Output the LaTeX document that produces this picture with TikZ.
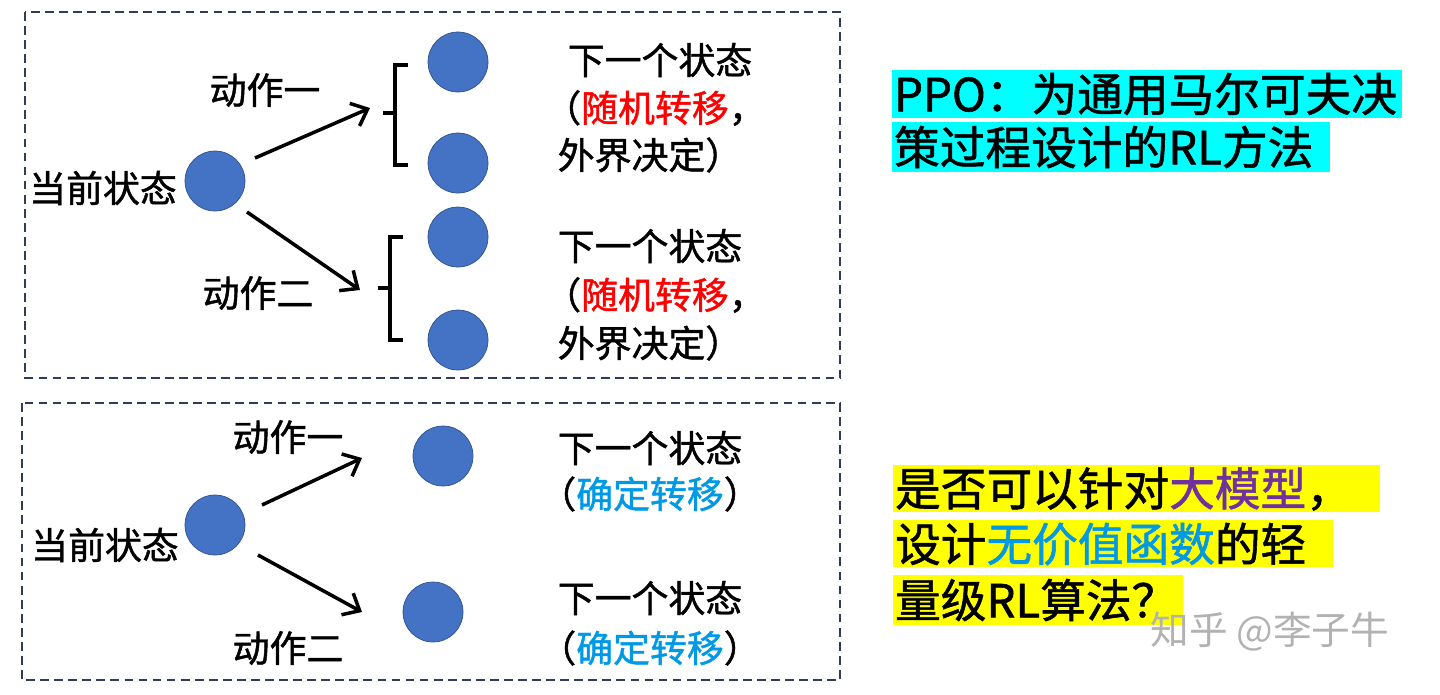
\documentclass[tikz,border=0pt]{standalone}
\usepackage{fontspec}
\setmainfont[AutoFakeBold=1.2]{Noto Sans CJK SC}
\usetikzlibrary{arrows.meta}
\definecolor{cy}{RGB}{0,255,255}
\definecolor{ye}{RGB}{255,255,0}
\definecolor{bl}{RGB}{68,114,196}
\definecolor{pu}{RGB}{112,48,160}
\definecolor{sb}{RGB}{0,153,230}
\definecolor{dash}{RGB}{50,60,90}
\begin{document}
\begin{tikzpicture}[x=0.02cm,y=-0.02cm,
 st/.style={circle,draw=bl!70!black,fill=bl,minimum size=1.2cm,inner sep=0},
 lab/.style={font=\bfseries\fontsize{21}{24}\selectfont,inner sep=0},
 big/.style={font=\bfseries\fontsize{26}{32}\selectfont,inner sep=1pt,anchor=west},
 arr/.style={-{Straight Barb[length=8pt,width=14pt]},line width=2pt},
 box/.style={draw=dash,dash pattern=on 5pt off 3pt,line width=1pt},
 br/.style={line width=2.2pt}]
\useasboundingbox (0,0) rectangle (1440,694);
\draw[box] (25,12) rectangle (840,378);
\draw[box] (22,403) rectangle (840,680);
% top
\node[st] (c1) at (215,181) {};
\node[st] (n1) at (458,62) {};
\node[st] (n2) at (458,163) {};
\node[st] (n3) at (458,237) {};
\node[st] (n4) at (458,340) {};
\node[lab] (t1) at (103,188) {当前状态};
\node[lab] (a1) at (265,90) {动作一};
\node[lab] (a2) at (258,293) {动作二};
\draw[br] (408,65) -- (395,65) -- (395,165) -- (408,165) (395,113) -- (383,113);
\draw[br] (403,237) -- (390,237) -- (390,340) -- (403,340) (390,288) -- (378,288);
\coordinate (e1) at (370,108); \coordinate (e2) at (360,290);
\draw[arr] (255,158) -- (e1);
\draw[arr] (247,212) -- (e2);
\node[lab] (s1) at (660,60) {下一个状态};
\node[lab] (s2) at (655,108) {（\textcolor{red}{随机转移}，};
\node[lab] (s3) at (650,155) {外界决定）};
\node[lab] (s4) at (650,246) {下一个状态};
\node[lab] (s5) at (655,295) {（\textcolor{red}{随机转移}，};
\node[lab] (s6) at (650,343) {外界决定）};
% bottom
\node[st] (c2) at (215,525) {};
\node[st] (m1) at (443,456) {};
\node[st] (m2) at (433,612) {};
\node[lab] (t2) at (105,545) {当前状态};
\node[lab] (a3) at (288,437) {动作一};
\node[lab] (a4) at (288,648) {动作二};
\draw[arr] (262,505) -- (362,458);
\draw[arr] (258,555) -- (362,612);
\node[lab] (u1) at (650,448) {下一个状态};
\node[lab] (u2) at (650,494) {（\textcolor{sb}{确定转移}）};
\node[lab] (u3) at (650,598) {下一个状态};
\node[lab] (u4) at (650,648) {（\textcolor{sb}{确定转移}）};
% right
\fill[cy] (892,70) rectangle (1402,118);
\fill[cy] (892,122) rectangle (1330,172);
\node[big] (p1) at (892,94) {PPO：为通用马尔可夫决};
\node[big] (p2) at (892,147) {策过程设计的RL方法};
\fill[ye] (893,465) rectangle (1380,512);
\fill[ye] (893,520) rectangle (1333,567);
\fill[ye] (893,575) rectangle (1183,625);
\node[big] (q1) at (893,489) {是否可以针对\textcolor{pu}{大模型}，};
\node[big] (q2) at (893,544) {设计\textcolor{sb}{无价值函数}的轻};
\node[big] (q3) at (893,600) {量级RL算法？};
\node[font=\fontsize{22}{26}\selectfont,text=black!30] (w) at (1270,632) {知乎 @李子牛};
\end{tikzpicture}
\end{document}
